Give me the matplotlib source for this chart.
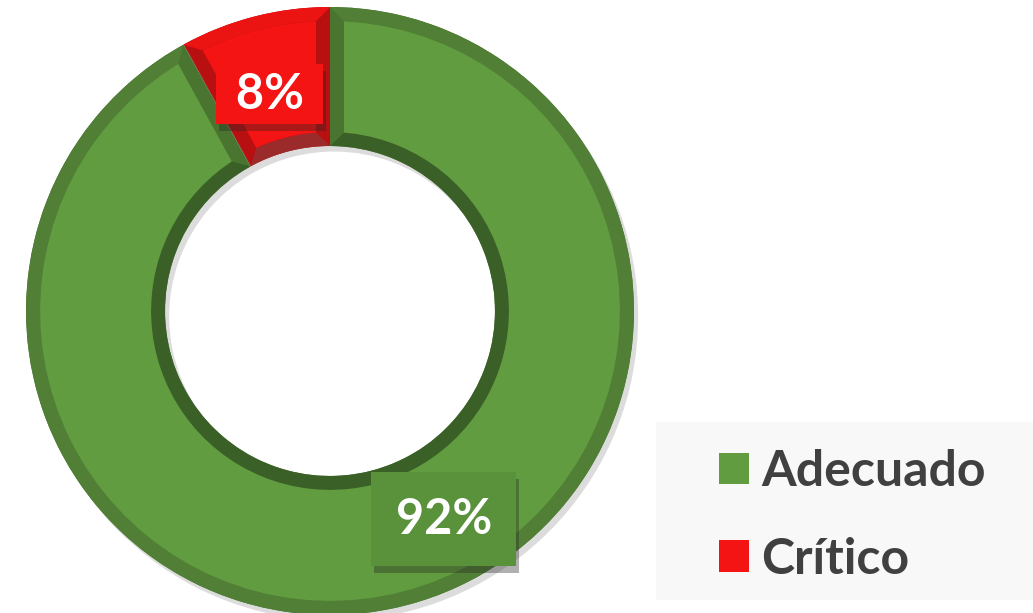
import numpy as np
import matplotlib.pyplot as plt
from matplotlib.patches import Polygon, Patch, Rectangle
import matplotlib.patheffects as pe

# data
labels = ['Crítico', 'Adecuado']
values = [8, 92]
face_colors = ['#f41414', '#619c40']
outer_colors = ['#ec1313', '#517f35']
inner_colors = ['#9b2b2b', '#3b6027']
side_colors = ['#b81010', '#4a7530']
legend_order = ['Adecuado', 'Crítico']

plt.rcParams['font.family'] = ['Lato', 'DejaVu Sans']

W, H = 1033, 613
fig = plt.figure(figsize=(W / 100, H / 100), dpi=100)
ax = fig.add_axes([0, 0, 1, 1])

cx, cy = 330, 302
R = 304
ring = 139
bev = 14

wedges, _ = ax.pie(values, colors=side_colors, startangle=90, counterclock=True,
                   radius=R, center=(cx, cy), frame=True,
                   wedgeprops=dict(width=ring, linewidth=0))
ax.set_xlim(0, W)
ax.set_ylim(0, H)
ax.set_aspect('equal')
ax.axis('off')

for w in wedges:
    w.set_path_effects([pe.SimplePatchShadow(offset=(3, -4), alpha=0.25, shadow_rgbFace='#777777'),
                        pe.Normal()])


def arc(r, a1, a2, n=80):
    t = np.radians(np.linspace(a1, a2, n))
    return np.column_stack([cx + r * np.cos(t), cy + r * np.sin(t)])


rin = R - ring
for i, w in enumerate(wedges):
    t1, t2 = w.theta1, w.theta2
    ro, ri = R - bev, rin + bev
    do = np.degrees(np.arcsin(bev / ro))
    di = np.degrees(np.arcsin(bev / ri))
    face_out = arc(ro, t1 + do, t2 - do)
    face_in = arc(ri, t2 - di, t1 + di)
    # outer bevel
    ax.add_patch(Polygon(np.vstack([arc(R, t1, t2), face_out[::-1]]),
                         closed=True, fc=outer_colors[i], ec='none', zorder=3))
    # inner bevel
    ax.add_patch(Polygon(np.vstack([arc(rin, t1, t2), face_in]),
                         closed=True, fc=inner_colors[i], ec='none', zorder=3))
    # face
    ax.add_patch(Polygon(np.vstack([face_out, face_in]), closed=True,
                         fc=face_colors[i], ec='none', zorder=4))

# data labels
label_frac = [0.54, 0.543]
label_rad = [0.74, 0.78]
label_pad = ['square,pad=0.15', 'square,pad=0.5']
label_fmt = [' {}% ', '{}%']
label_fc = ['#f41414', '#5a913b']
for i, w in enumerate(wedges):
    a = np.radians(w.theta1 + label_frac[i] * (w.theta2 - w.theta1))
    r = label_rad[i] * R
    t = ax.text(cx + r * np.cos(a), cy + r * np.sin(a), label_fmt[i].format(values[i]),
                color='white', fontsize=35, fontweight='bold',
                ha='center', va='center', zorder=6,
                bbox=dict(boxstyle=label_pad[i], fc=label_fc[i], ec='none'))
    t.get_bbox_patch().set_path_effects([
        pe.SimplePatchShadow(offset=(2, -5), alpha=0.35, shadow_rgbFace='#222222'),
        pe.Normal()])

# legend
ax.add_patch(Rectangle((656 / W, 1 - 600 / H), 1 - 656 / W, 178 / H,
                       transform=ax.transAxes, fc='#f8f8f8', ec='none', zorder=1))
handles = [Patch(fc=face_colors[labels.index(n)], ec='none') for n in legend_order]
leg = ax.legend(handles, legend_order, loc='upper left',
                bbox_to_anchor=(719 / W, 1 - 449 / H), frameon=False,
                prop=dict(family='Lato', weight='bold', size=36),
                handlelength=0.6, handleheight=0.6, handletextpad=0.25,
                labelspacing=0.85, borderaxespad=0, borderpad=0)
for txt in leg.get_texts():
    txt.set_color('#404040')

fig.savefig('out.png', dpi=100, facecolor='white')
